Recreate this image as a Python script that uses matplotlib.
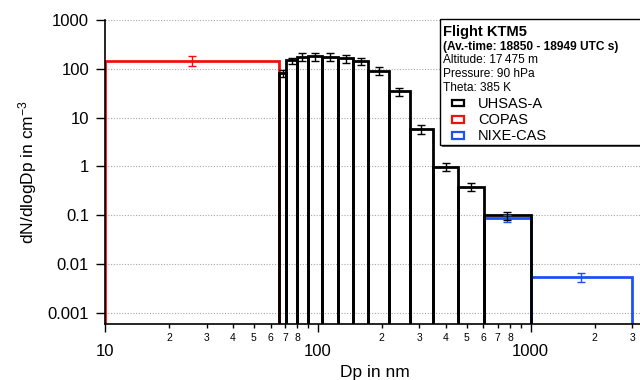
import numpy as np
import matplotlib
matplotlib.use('Agg')
import matplotlib.pyplot as plt
from matplotlib.patches import Rectangle
from matplotlib.ticker import FixedLocator, FixedFormatter

plt.rcParams['font.family'] = ['Liberation Sans', 'DejaVu Sans']
plt.rcParams['mathtext.default'] = 'regular'

# ---- data ----
uhsas_edges = [66, 71, 80, 89.5, 105, 124, 147, 173, 216, 270, 347, 457, 603, 1000]
uhsas_values = [82, 148, 175, 179, 178, 163, 142, 92, 34.5, 5.8, 0.97, 0.38, 0.098]
uhsas_err = [14, 22, 33, 33, 32, 29, 25, 16, 6.5, 1.1, 0.18, 0.07, 0.02]

copas_edges = [10, 66]
copas_values = [147]
copas_err = [32]

nixe_edges = [603, 1000, 3000]
nixe_values = [0.087, 0.0053]
nixe_err = [0.015, 0.0011]

major_xticks = [10, 100, 1000]
major_xlabels = ['10', '100', '1000']
minor_xticks = [20, 30, 40, 50, 60, 70, 80, 90,
                200, 300, 400, 500, 600, 700, 800, 900, 2000, 3000]
minor_xlabels = ['2', '3', '4', '5', '6', '7', '8', '',
                 '2', '3', '4', '5', '6', '7', '8', '', '2', '3']
yticks = [0.001, 0.01, 0.1, 1, 10, 100, 1000]
ylabels = ['0.001', '0.01', '0.1', '1', '10', '100', '1000']

info_title = 'Flight KTM5'
info_sub = '(Av.-time: 18850 - 18949 UTC s)'
info_lines = ['Altitude: 17\u2009475 m', 'Pressure: 90 hPa', 'Theta: 385 K']
series_names = ['UHSAS-A', 'COPAS', 'NIXE-CAS']
colors = {'UHSAS-A': '#000000', 'COPAS': '#f01010', 'NIXE-CAS': '#1f50f5'}

W, H = 640, 380
fig = plt.figure(figsize=(W / 100, H / 100), dpi=100)
ax = fig.add_axes([105 / W, 56 / H, 535 / W, 304 / H])
ax.set_xscale('log')
ax.set_yscale('log')

BASE = 1e-5


def draw(edges, values, errs, color):
    lefts = edges[:-1]
    widths = [b - a for a, b in zip(edges[:-1], edges[1:])]
    heights = [v - BASE for v in values]
    ax.bar(lefts, heights, width=widths, bottom=BASE, align='edge',
           fill=False, edgecolor=color, linewidth=2.0, zorder=2)
    centers = [np.sqrt(a * b) for a, b in zip(edges[:-1], edges[1:])]
    ax.errorbar(centers, values, yerr=errs, fmt='none', ecolor=color,
                elinewidth=1.0, capsize=3, capthick=1.0, zorder=3)


draw(copas_edges, copas_values, copas_err, colors['COPAS'])
draw(nixe_edges, nixe_values, nixe_err, colors['NIXE-CAS'])
draw(uhsas_edges, uhsas_values, uhsas_err, colors['UHSAS-A'])

ax.set_xlim(10, 3266)
ax.set_ylim(5.83e-4, 1000)

ax.spines['top'].set_visible(False)
ax.spines['right'].set_visible(False)
ax.spines['left'].set_linewidth(1.2)
ax.spines['bottom'].set_linewidth(1.2)

ax.xaxis.set_major_locator(FixedLocator(major_xticks))
ax.xaxis.set_major_formatter(FixedFormatter(major_xlabels))
ax.xaxis.set_minor_locator(FixedLocator(minor_xticks))
ax.xaxis.set_minor_formatter(FixedFormatter(minor_xlabels))
ax.tick_params(axis='x', which='major', direction='out', length=5.8,
               width=1.0, labelsize=12, pad=8.5)
ax.tick_params(axis='x', which='minor', direction='out', length=3.2,
               width=1.0, labelsize=7.5, pad=3.2)

ax.yaxis.set_major_locator(FixedLocator(yticks))
ax.yaxis.set_major_formatter(FixedFormatter(ylabels))
ax.yaxis.set_minor_locator(FixedLocator([]))
ax.tick_params(axis='y', which='major', direction='out', length=6.5,
               width=1.0, labelsize=12, pad=5)

ax.yaxis.grid(True, which='major', linestyle=(0, (1, 1.5)),
              color='#a8a8a8', linewidth=0.8)
ax.set_axisbelow(True)

ax.set_xlabel('Dp in nm', fontsize=12.5)
ax.xaxis.set_label_coords(0.505, -0.135)
ax.set_ylabel('dN/dlogDp in cm$^{-3}$', fontsize=12.5)
ax.yaxis.set_label_coords(-0.123, 0.5)


# ---- info / legend box (figure pixel coordinates) ----
def fx(px):
    return px / W


def fy(py):
    return 1 - py / H


bx0, by0, bx1, by1 = 440, 19, 660, 145
fig.add_artist(Rectangle((fx(bx0 + 2), fy(by1 + 2)), (bx1 - bx0) / W, (by1 - by0) / H,
                         transform=fig.transFigure, facecolor='#555555',
                         edgecolor='none', zorder=4))
fig.add_artist(Rectangle((fx(bx0), fy(by1)), (bx1 - bx0) / W, (by1 - by0) / H,
                         transform=fig.transFigure, facecolor='white',
                         edgecolor='black', linewidth=1.0, zorder=5))

tx = fx(443)
fig.text(tx, fy(35.7), info_title, fontsize=10.6, fontweight='bold',
         va='baseline', zorder=6)
fig.text(tx, fy(49.7), info_sub, fontsize=8.6, fontweight='bold',
         va='baseline', zorder=6)
for i, line in enumerate(info_lines):
    fig.text(tx, fy(63.3 + 13.8 * i), line, fontsize=8.6, va='baseline',
             family=['Liberation Sans', 'DejaVu Sans'], zorder=6)

for i, name in enumerate(series_names):
    base = 107.7 + 16.3 * i
    fig.add_artist(Rectangle((fx(452), fy(base - 1.5)), 12 / W, 6.5 / H,
                             transform=fig.transFigure, facecolor='white',
                             edgecolor=colors[name], linewidth=1.6, zorder=6))
    fig.text(fx(478), fy(base), name, fontsize=10.5, va='baseline', zorder=6)

fig.savefig('out.png', dpi=100)
